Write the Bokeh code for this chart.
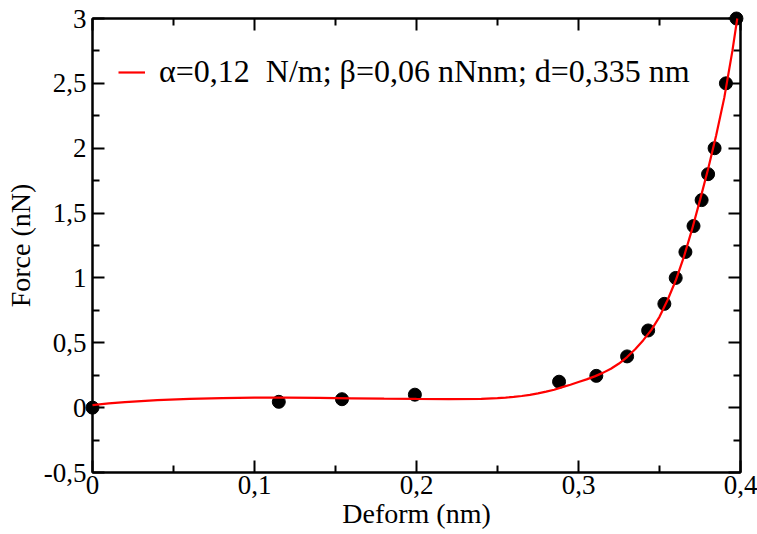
from bokeh.plotting import figure
from bokeh.models import (ColumnDataSource, FixedTicker, LinearAxis, Legend, LegendItem,
                          CustomJSTickFormatter, Range1d)
from bokeh.embed import file_html
from bokeh.resources import INLINE

# Measured points
deform_nm = [0.0, 0.115, 0.154, 0.199, 0.288, 0.311, 0.330, 0.343, 0.353, 0.360,
             0.366, 0.371, 0.376, 0.380, 0.384, 0.391, 0.3975]
force_nN = [0.0, 0.045, 0.065, 0.10, 0.20, 0.245, 0.395, 0.595, 0.80, 1.0,
            1.2, 1.4, 1.6, 1.8, 2.0, 2.5, 3.0]

# Fitted curve
fit_x = [0.0, 0.01, 0.02, 0.03, 0.04, 0.06, 0.08, 0.10, 0.12, 0.14, 0.16, 0.18, 0.20,
         0.22, 0.24, 0.25, 0.255, 0.26, 0.265, 0.27, 0.275, 0.28, 0.285, 0.29, 0.295,
         0.30, 0.305, 0.31, 0.315, 0.32, 0.325, 0.33, 0.335, 0.34, 0.345, 0.35, 0.355,
         0.36, 0.365, 0.37, 0.375, 0.38, 0.385, 0.39, 0.395, 0.398]
fit_y = [0.02, 0.033, 0.043, 0.051, 0.058, 0.068, 0.074, 0.077, 0.077, 0.075, 0.072,
         0.069, 0.067, 0.066, 0.068, 0.073, 0.077, 0.083, 0.090, 0.099, 0.110, 0.123,
         0.138, 0.158, 0.177, 0.198, 0.218, 0.241, 0.268, 0.300, 0.340, 0.390, 0.450,
         0.520, 0.600, 0.700, 0.830, 0.980, 1.16, 1.37, 1.60, 1.84, 2.10, 2.39, 2.75, 3.0]
fit_label = "\u03b1=0,12  N/m; \u03b2=0,06 nNnm; d=0,335 nm"

# Ticks
x_ticks = [0.0, 0.1, 0.2, 0.3, 0.4]
x_tick_labels = ["0", "0,1", "0,2", "0,3", "0,4"]
x_minor = [0.05, 0.15, 0.25, 0.35]
y_ticks = [-0.5, 0.0, 0.5, 1.0, 1.5, 2.0, 2.5, 3.0]
y_tick_labels = ["-0,5", "0", "0,5", "1", "1,5", "2", "2,5", "3"]
y_minor = [-0.25, 0.25, 0.75, 1.25, 1.75, 2.25, 2.75]

FONT = "Liberation Serif"

p = figure(width=757, height=534, output_backend="svg", toolbar_location=None,
           x_range=Range1d(0, 0.4), y_range=Range1d(-0.5, 3.0),
           x_axis_location=None, y_axis_location=None,
           min_border_left=92, min_border_right=17, min_border_top=18, min_border_bottom=62)
p.xgrid.visible = False
p.ygrid.visible = False
p.outline_line_color = "black"
p.outline_line_width = 2
p.background_fill_color = "white"
p.border_fill_color = "white"

lab_code = """
const i = tvals.findIndex(t => Math.abs(t - tick) < 1e-9);
return i >= 0 ? tlabels[i] : '';
"""

def make_axis(ticks, minor, labels, show):
    ax = LinearAxis(ticker=FixedTicker(ticks=ticks, minor_ticks=minor))
    ax.axis_line_width = 2
    ax.axis_line_color = "black"
    ax.major_tick_in = 12
    ax.major_tick_out = 0
    ax.minor_tick_in = 7
    ax.minor_tick_out = 0
    ax.major_tick_line_width = 2
    ax.minor_tick_line_width = 2
    ax.major_tick_line_color = "black"
    ax.minor_tick_line_color = "black"
    if show:
        ax.formatter = CustomJSTickFormatter(args=dict(tvals=ticks, tlabels=labels), code=lab_code)
        ax.major_label_text_font = FONT
        ax.major_label_text_font_size = "27px"
        ax.major_label_text_color = "black"
    else:
        ax.formatter = CustomJSTickFormatter(code="return '';")
        ax.major_label_text_font_size = "0px"
        ax.major_label_standoff = 0
    return ax

xb = make_axis(x_ticks, x_minor, x_tick_labels, True)
xb.axis_label = "Deform (nm)"
xb.major_label_standoff = 3
xb.axis_label_standoff = 1
xb.axis_label_text_font = FONT
xb.axis_label_text_font_size = "28px"
xb.axis_label_text_font_style = "normal"
xb.axis_label_text_color = "black"
p.add_layout(xb, "below")

yl = make_axis(y_ticks, y_minor, y_tick_labels, True)
yl.axis_label = "Force (nN)"
yl.major_label_standoff = 6
yl.axis_label_standoff = 5
yl.axis_label_text_font = FONT
yl.axis_label_text_font_size = "28px"
yl.axis_label_text_font_style = "normal"
yl.axis_label_text_color = "black"
p.add_layout(yl, "left")

p.add_layout(make_axis(x_ticks, x_minor, x_tick_labels, False), "above")
p.add_layout(make_axis(y_ticks, y_minor, y_tick_labels, False), "right")

pts = ColumnDataSource(dict(x=deform_nm, y=force_nN))
fit = ColumnDataSource(dict(x=fit_x, y=fit_y))

p.scatter("x", "y", source=pts, size=13, marker="circle", fill_color="black",
          line_color="black", level="overlay")
fit_r = p.line("x", "y", source=fit, line_color="#ff0000", line_width=2.2, level="overlay")

legend = Legend(items=[LegendItem(label=fit_label, renderers=[fit_r])],
                location=(26, 382), padding=0, margin=0, spacing=0,
                glyph_width=27, glyph_height=20, label_standoff=14,
                label_text_font=FONT, label_text_font_size="32px",
                label_text_color="black",
                border_line_color=None, background_fill_alpha=0)
p.add_layout(legend)

open("out.html", "w").write(file_html(p, INLINE))
